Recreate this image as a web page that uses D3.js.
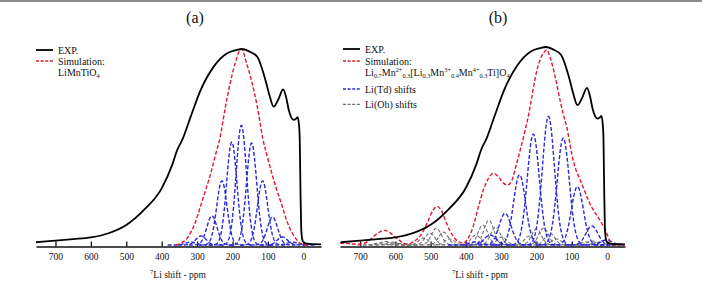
<!DOCTYPE html>
<html><head><meta charset="utf-8">
<script src="https://cdn.jsdelivr.net/npm/d3@7"></script>
<style>
body{margin:0;background:#fff}
svg{display:block}
svg text{font-family:"Liberation Serif","Times New Roman",serif !important;fill:#111}
</style>
</head><body>
<svg id="c" width="702" height="283"></svg>
<script>
// ---------- data ----------
const tickValues = [700, 600, 500, 400, 300, 200, 100, 0];
const panelTitles = ["(a)", "(b)"];
const axisTitle = "Li shift - ppm";

// experimental spectrum (ppm, % of max)
const expShift = [755, 700, 650, 600, 550, 500, 450, 400, 370, 356, 342, 318, 290, 253, 215, 190, 173, 150, 130, 107, 95, 84, 70, 57, 48, 41, 27, 20, 16, 12, 10, 8, 6, 4, 2, 0, -10, -25, -50];
const expIntensity = [1.4, 2.2, 3.0, 3.9, 6.0, 10.2, 17.9, 28.9, 41, 48.5, 53.6, 65.5, 79, 91, 97.8, 99.4, 100, 98.5, 96, 84.2, 76, 70.6, 74.5, 79.4, 75, 68.9, 63.8, 64.5, 65.2, 61, 53.6, 28, 9, 4, 2.2, 1.5, 0.7, 0.4, 0.3];

// (a) simulation LiMnTiO4
const simAShift = [360, 345, 330, 318, 305, 290, 275, 260, 248, 235, 220, 206, 192, 175, 159, 145, 130, 114, 100, 80, 60, 45, 32, 20, 10, 0, -10];
const simAIntensity = [0, 1, 3, 6.4, 11.5, 20, 28.5, 37.5, 46, 55, 70.5, 83, 93, 100, 92, 83, 70.6, 54, 44, 31, 20, 11.5, 6.4, 3, 1, 0.3, 0];

// (a) Li(Td) components: centres (ppm) and heights (%)
const tdACenters = [318, 289, 258, 230, 202, 175, 146, 115, 87, 59, 31];
const tdAHeights = [1.5, 4.6, 14.8, 32.7, 52.5, 61, 52, 32.7, 14.3, 4.1, 1.5];
const tdAWidth = 14.5;

// (b) simulation Li0.7Mn...
const simBShift = [757, 740, 720, 700, 686, 670, 650, 630, 610, 590, 575, 564, 550, 530, 510, 495, 482, 470, 455, 445, 430, 415, 407, 395, 380, 365, 350, 335, 322, 308, 295, 282, 270, 258, 246, 232, 222, 213, 205, 199, 190, 180, 171, 160, 147, 133, 124, 114, 105, 100, 90, 76, 65, 53, 40, 25, 12, 1, -8, -13, -20, -51];
const simBIntensity = [1, 0.8, 0.5, 0.5, 1, 3, 6, 7.4, 5.5, 2.5, 0.8, 0.5, 1.5, 4.5, 11, 17, 19.5, 17.5, 11, 7, 3, 1.2, 1, 3, 9, 19, 28, 34, 36.2, 34.5, 31.5, 30.3, 32.5, 40, 48, 58, 66, 75, 83, 88, 93.4, 97, 98.5, 94, 85, 73, 66, 59.6, 51, 46, 39, 32.8, 28, 22.7, 18, 14, 10, 6, 2, 0.5, 0, 0];

// (b) Li(Td) components
const tdBCenters = [374, 331, 289, 248, 209, 166, 124, 84, 43, 2, -39];
const tdBHeights = [1.5, 5, 16, 35.4, 56, 65, 54, 29.5, 9.6, 2.5, 0.5];
const tdBWidth = 17;

// (b) Li(Oh) components
const ohBCenters = [645, 628, 610, 592, 520, 502, 484, 464, 446, 372, 352, 335, 316, 298, 220, 200, 180, 162, 143, 60, 42, 24];
const ohBHeights = [1.0, 1.8, 1.5, 0.8, 3.5, 6, 8.5, 6.5, 3, 5, 10, 12.5, 9, 4, 4.5, 8, 8.5, 6, 3, 1.5, 2, 1.5];
const ohBWidth = 14;

// ---------- drawing ----------
const svg = d3.select("#c");
svg.append("rect").attr("x", 0).attr("y", 0).attr("width", 702).attr("height", 2).attr("fill", "#8c8c8c");

const C = {black: "#000", red: "#e3182d", blue: "#2a2ad8", gray: "#6e6e6e"};

function zipPairs(xs, ys) { return xs.map((v, i) => [v, ys[i]]).sort((a, b) => b[0] - a[0]); }

function gaussPoints(c, h, w, dom) {
  const pts = [];
  const lo = Math.max(Math.min(dom[0], dom[1]), c - 4.5 * w);
  const hi = Math.min(Math.max(dom[0], dom[1]), c + 4.5 * w);
  for (let s = hi; s >= lo; s -= 1) pts.push([s, h * Math.exp(-((s - c) * (s - c)) / (2 * w * w))]);
  return pts;
}

function panel(cfg) {
  const x = d3.scaleLinear().domain(cfg.dom).range(cfg.rng);
  const y = d3.scaleLinear().domain([0, 100]).range([cfg.y0, cfg.y100]);
  const g = svg.append("g");

  const ax = d3.axisBottom(x).tickValues(tickValues).tickSizeInner(-5).tickSizeOuter(0)
    .tickPadding(7).tickFormat(d3.format("d"));
  const axg = g.append("g").attr("transform", `translate(0,${cfg.axisY})`).call(ax)
    .attr("font-family", '"Liberation Serif",serif');
  axg.select(".domain").attr("stroke", "#111").attr("stroke-width", 1.6);
  axg.selectAll(".tick line").attr("stroke", "#111").attr("stroke-width", 1.3);
  axg.selectAll(".tick text").attr("font-size", 9.5).attr("fill", "#222");

  const t = g.append("text").attr("x", cfg.titleX).attr("y", 278).attr("text-anchor", "middle").attr("font-size", 9.5);
  t.append("tspan").attr("font-size", 6.5).attr("dy", -4).text("7");
  t.append("tspan").attr("dy", 4).text(axisTitle);

  g.append("text").attr("x", cfg.panelX).attr("y", 23).attr("text-anchor", "middle")
    .attr("font-size", 16).text(cfg.panelTitle);

  const lineM = d3.line().x(d => x(d[0])).y(d => y(d[1])).curve(d3.curveMonotoneX);
  const lineL = d3.line().x(d => x(d[0])).y(d => y(d[1]));

  (cfg.oh || []).forEach(p => {
    g.append("path").attr("d", lineL(gaussPoints(p[0], p[1], cfg.ohW, cfg.dom)))
      .attr("fill", "none").attr("stroke", C.gray).attr("stroke-width", 1.1).attr("stroke-dasharray", "3.5,2");
  });
  cfg.td.forEach(p => {
    g.append("path").attr("d", lineL(gaussPoints(p[0], p[1], cfg.tdW, cfg.dom)))
      .attr("fill", "none").attr("stroke", C.blue).attr("stroke-width", 1.4).attr("stroke-dasharray", "4,2");
  });
  g.append("path").attr("d", lineM(cfg.sim)).attr("fill", "none").attr("stroke", C.red)
    .attr("stroke-width", 1.4).attr("stroke-dasharray", "4,2");
  g.append("path").attr("d", lineM(cfg.exp)).attr("fill", "none").attr("stroke", C.black)
    .attr("stroke-width", 1.8);

  // legend
  const L = cfg.leg;
  L.items.forEach(it => {
    const ln = g.append("line").attr("x1", L.x).attr("x2", L.x + 17).attr("y1", it.y).attr("y2", it.y)
      .attr("stroke", C[it.c]).attr("stroke-width", it.c === "black" ? 1.8 : 1.3);
    if (it.c !== "black") ln.attr("stroke-dasharray", "3,1.6");
    it.lines.forEach((parts, i) => {
      const tx = g.append("text").attr("x", L.x + 22).attr("y", it.y + 3.5 + i * 11.3).attr("font-size", 10);
      let off = 0;
      parts.forEach(p => {
        const target = p[1] === "sub" ? 2.5 : p[1] === "sup" ? -3.8 : 0;
        const ts = tx.append("tspan").attr("dy", target - off).text(p[0]);
        if (p[1] !== "n") ts.attr("font-size", 6.3);
        off = target;
      });
    });
  });
}

panel({
  dom: [755, -50], rng: [36, 321], y0: 245, y100: 49, axisY: 246.5,
  titleX: 178, panelX: 195, panelTitle: panelTitles[0],
  exp: zipPairs(expShift, expIntensity), sim: zipPairs(simAShift, simAIntensity),
  td: tdACenters.map((c, i) => [c, tdAHeights[i]]), tdW: tdAWidth,
  leg: {x: 36, items: [
    {c: "black", y: 50, lines: [[["EXP.", "n"]]]},
    {c: "red", y: 61, lines: [[["Simulation:", "n"]], [["LiMnTiO", "n"], ["4", "sub"]]]}
  ]}
});

panel({
  dom: [757, -51], rng: [340, 625], y0: 245, y100: 47, axisY: 246.5,
  titleX: 480, panelX: 498, panelTitle: panelTitles[1],
  exp: zipPairs(expShift, expIntensity), sim: zipPairs(simBShift, simBIntensity),
  td: tdBCenters.map((c, i) => [c, tdBHeights[i]]), tdW: tdBWidth,
  oh: ohBCenters.map((c, i) => [c, ohBHeights[i]]), ohW: ohBWidth,
  leg: {x: 343, items: [
    {c: "black", y: 49, lines: [[["EXP.", "n"]]]},
    {c: "red", y: 61, lines: [[["Simulation:", "n"]], [["Li", "n"], ["0.7", "sub"], ["Mn", "n"], ["2+", "sup"], ["0.3", "sub"], ["[Li", "n"], ["0.3", "sub"], ["Mn", "n"], ["3+", "sup"], ["0.4", "sub"], ["Mn", "n"], ["4+", "sup"], ["0.3", "sub"], ["Ti]O", "n"], ["4", "sub"]]]},
    {c: "blue", y: 89, lines: [[["Li(Td) shifts", "n"]]]},
    {c: "gray", y: 104.3, lines: [[["Li(Oh) shifts", "n"]]]}
  ]}
});
</script>
</body></html>
